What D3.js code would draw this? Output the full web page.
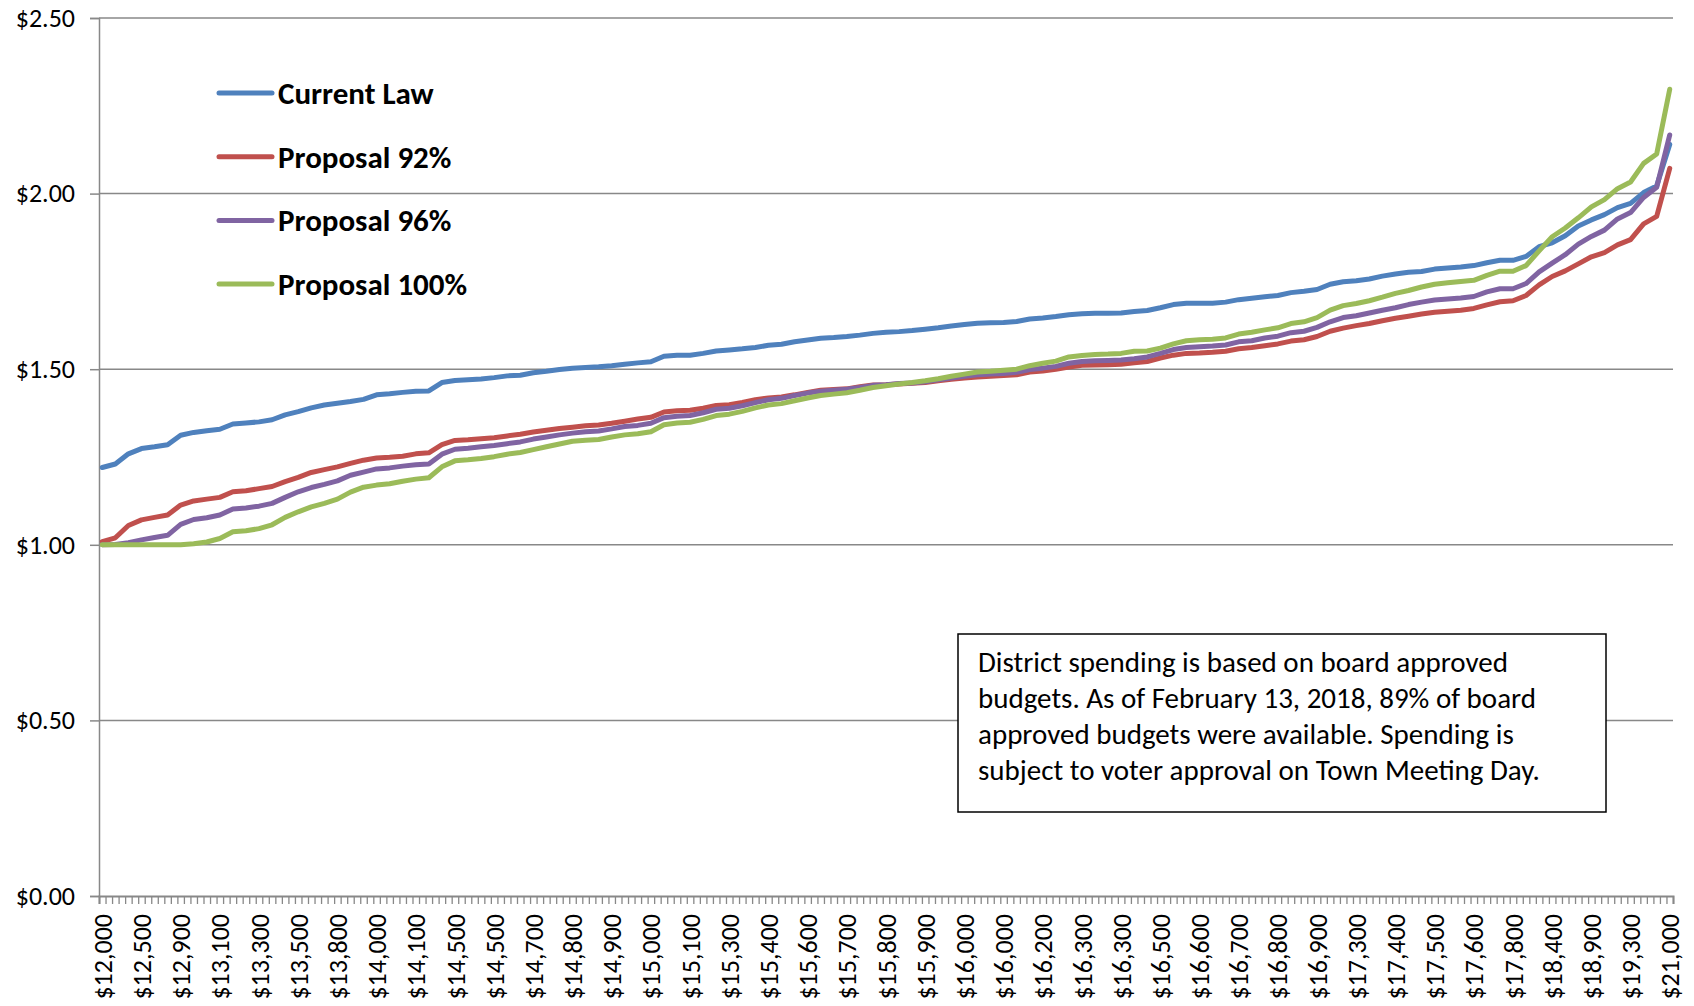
<!DOCTYPE html>
<html>
<head>
<meta charset="utf-8">
<script src="https://cdn.jsdelivr.net/npm/d3@7"></script>
<style>
  body { margin: 0; background: #fff; }
  svg text { font-family: Carlito, Lato, sans-serif; fill: #000; }
</style>
</head>
<body>
<div id="chart"></div>
<script>
// labels shown on the x axis (one every 6 districts)
const tickLabels = [
  '$12,000','$12,500','$12,900','$13,100','$13,300','$13,500','$13,800','$14,000','$14,100','$14,500',
  '$14,500','$14,700','$14,800','$14,900','$15,000','$15,100','$15,300','$15,400','$15,600','$15,700',
  '$15,800','$15,900','$16,000','$16,000','$16,200','$16,300','$16,300','$16,500','$16,600','$16,700',
  '$16,800','$16,900','$17,300','$17,400','$17,500','$17,600','$17,800','$18,400','$18,900','$19,300',
  '$21,000'
]
const labelEvery = 6
// series are read every 2nd district
const sampleStep = 2

const seriesNames = ['Current Law', 'Proposal 92%', 'Proposal 96%', 'Proposal 100%']
const seriesColors = ['#4F81BD', '#C0504D', '#8064A2', '#9BBB59']

const currentLaw = [
  1.220,1.230,1.259,1.274,1.279,1.285,1.312,1.320,1.325,1.329,
  1.344,1.347,1.350,1.356,1.370,1.379,1.390,1.398,1.403,1.408,
  1.414,1.427,1.430,1.434,1.437,1.438,1.462,1.468,1.470,1.472,
  1.476,1.481,1.483,1.490,1.494,1.499,1.503,1.505,1.507,1.510,
  1.514,1.518,1.521,1.537,1.540,1.540,1.545,1.552,1.555,1.558,
  1.562,1.568,1.571,1.578,1.583,1.588,1.590,1.593,1.597,1.602,
  1.605,1.607,1.610,1.614,1.618,1.623,1.627,1.631,1.632,1.633,
  1.636,1.643,1.646,1.650,1.655,1.658,1.659,1.659,1.660,1.664,
  1.667,1.675,1.684,1.688,1.688,1.688,1.691,1.698,1.702,1.706,
  1.710,1.718,1.722,1.727,1.742,1.749,1.752,1.757,1.765,1.771,
  1.776,1.778,1.785,1.788,1.791,1.795,1.803,1.810,1.810,1.821,
  1.849,1.860,1.880,1.908,1.925,1.940,1.960,1.972,2.003,2.022,
  2.140
]
const proposal92 = [
  1.009,1.020,1.055,1.071,1.078,1.085,1.113,1.125,1.130,1.135,
  1.151,1.154,1.160,1.166,1.180,1.192,1.206,1.214,1.222,1.232,
  1.241,1.247,1.249,1.252,1.259,1.262,1.285,1.297,1.299,1.302,
  1.305,1.310,1.315,1.321,1.326,1.331,1.335,1.339,1.341,1.346,
  1.352,1.358,1.363,1.378,1.382,1.383,1.389,1.397,1.399,1.405,
  1.413,1.418,1.421,1.427,1.434,1.440,1.442,1.444,1.450,1.455,
  1.456,1.458,1.460,1.462,1.467,1.471,1.475,1.478,1.480,1.482,
  1.484,1.492,1.495,1.500,1.506,1.511,1.512,1.513,1.514,1.518,
  1.522,1.532,1.540,1.545,1.546,1.548,1.551,1.558,1.562,1.567,
  1.572,1.580,1.584,1.593,1.608,1.617,1.624,1.630,1.638,1.645,
  1.651,1.657,1.662,1.665,1.668,1.673,1.683,1.692,1.695,1.710,
  1.740,1.764,1.780,1.800,1.820,1.832,1.854,1.869,1.914,1.935,
  2.072
]
const proposal96 = [
  1.000,1.001,1.006,1.014,1.021,1.027,1.058,1.072,1.077,1.085,
  1.102,1.105,1.110,1.118,1.135,1.151,1.163,1.172,1.182,1.198,
  1.207,1.216,1.219,1.224,1.228,1.230,1.258,1.272,1.275,1.279,
  1.283,1.288,1.293,1.301,1.307,1.313,1.318,1.322,1.324,1.330,
  1.337,1.340,1.346,1.362,1.366,1.368,1.376,1.386,1.389,1.396,
  1.405,1.413,1.417,1.425,1.432,1.437,1.440,1.443,1.448,1.454,
  1.456,1.459,1.461,1.464,1.470,1.475,1.480,1.484,1.486,1.488,
  1.491,1.499,1.503,1.508,1.517,1.522,1.524,1.525,1.526,1.530,
  1.535,1.545,1.556,1.562,1.564,1.566,1.569,1.578,1.581,1.589,
  1.594,1.604,1.608,1.619,1.635,1.647,1.652,1.660,1.668,1.675,
  1.684,1.691,1.697,1.700,1.703,1.707,1.720,1.729,1.729,1.744,
  1.777,1.802,1.826,1.856,1.878,1.896,1.928,1.946,1.989,2.018,
  2.167
]
const proposal100 = [
  1.000,1.000,1.000,1.000,1.000,1.000,1.000,1.003,1.008,1.018,
  1.037,1.040,1.046,1.057,1.078,1.094,1.108,1.118,1.130,1.150,
  1.164,1.170,1.174,1.181,1.187,1.191,1.222,1.239,1.242,1.246,
  1.251,1.258,1.263,1.271,1.279,1.287,1.295,1.298,1.300,1.307,
  1.313,1.316,1.322,1.342,1.347,1.349,1.357,1.368,1.372,1.380,
  1.390,1.398,1.402,1.410,1.418,1.425,1.429,1.433,1.440,1.448,
  1.453,1.458,1.462,1.467,1.473,1.480,1.486,1.492,1.494,1.497,
  1.500,1.510,1.517,1.523,1.535,1.539,1.542,1.543,1.545,1.551,
  1.552,1.560,1.572,1.581,1.584,1.585,1.589,1.600,1.605,1.612,
  1.618,1.630,1.635,1.647,1.668,1.681,1.687,1.695,1.705,1.716,
  1.724,1.734,1.742,1.746,1.750,1.753,1.767,1.779,1.779,1.795,
  1.837,1.877,1.902,1.931,1.962,1.983,2.014,2.033,2.086,2.113,
  2.297
]
const yTicks = [0, 0.5, 1, 1.5, 2, 2.5]

const noteLines = [
  'District spending is based on board approved',
  'budgets. As of February 13, 2018, 89% of board',
  'approved budgets were available. Spending is',
  'subject to voter approval on Town Meeting Day.'
]

const dms = {
  width: 1694,
  height: 1006,
  margin: { top: 18, right: 21, bottom: 110, left: 99 }
}
dms.contentWidth = dms.width - dms.margin.left - dms.margin.right
dms.contentHeight = dms.height - dms.margin.top - dms.margin.bottom

const nCat = (tickLabels.length - 1) * labelEvery + 1
const allSeries = [currentLaw, proposal92, proposal96, proposal100]

const svg = d3.select('#chart').append('svg')
    .attr('width', dms.width)
    .attr('height', dms.height)

const content = svg.append('g')
    .attr('transform', `translate(${dms.margin.left},${dms.margin.top})`)

const x = d3.scalePoint()
    .domain(d3.range(nCat))
    .range([0, dms.contentWidth])
    .padding(0.5)

const xEdge = d3.scaleLinear()
    .domain([0, nCat])
    .range([0, dms.contentWidth])

const y = d3.scaleLinear()
    .domain([0, 2.5])
    .range([dms.contentHeight, 0])

const axisColor = '#888888'

// gridlines
content.append('g')
    .selectAll('line')
    .data(yTicks.filter(d => d > 0))
    .join('line')
    .attr('x1', 0)
    .attr('x2', dms.contentWidth)
    .attr('y1', d => y(d))
    .attr('y2', d => y(d))
    .attr('stroke', axisColor)
    .attr('stroke-width', 1.5)

// y axis
const yAxis = content.append('g')
    .call(d3.axisLeft(y)
        .tickValues(yTicks)
        .tickSize(9)
        .tickPadding(15)
        .tickFormat(d => '$' + d.toFixed(2)))
yAxis.select('.domain').attr('stroke', axisColor).attr('stroke-width', 1.5)
yAxis.selectAll('.tick line').attr('stroke', axisColor).attr('stroke-width', 1.5)
yAxis.selectAll('text')
    .style('font-size', '26px')
    .attr('fill', '#000')

// x axis: tick marks between districts
const xTicks = content.append('g')
    .attr('transform', `translate(0,${dms.contentHeight})`)
    .call(d3.axisBottom(xEdge)
        .tickValues(d3.range(nCat + 1))
        .tickSize(8)
        .tickFormat(''))
xTicks.select('.domain').attr('stroke', axisColor).attr('stroke-width', 2)
xTicks.selectAll('.tick line').attr('stroke', axisColor).attr('stroke-width', 1.3)

// x axis labels
const xLabels = content.append('g')
    .attr('transform', `translate(0,${dms.contentHeight})`)
    .call(d3.axisBottom(x)
        .tickValues(d3.range(0, nCat, labelEvery))
        .tickSize(0)
        .tickFormat(i => tickLabels[i / labelEvery]))
xLabels.select('.domain').remove()
xLabels.selectAll('text')
    .style('font-size', '26px')
    .attr('fill', '#000')
    .attr('transform', 'rotate(-90)')
    .attr('text-anchor', 'end')
    .attr('x', -18)
    .attr('y', 0)
    .attr('dy', '0.35em')

// series lines
const lineGen = d3.line()
    .x((d, k) => x(k * sampleStep))
    .y(d => y(d))

content.append('g')
    .selectAll('path')
    .data(allSeries)
    .join('path')
    .attr('d', lineGen)
    .attr('fill', 'none')
    .attr('stroke', (d, k) => seriesColors[k])
    .attr('stroke-width', 5)
    .attr('stroke-linejoin', 'round')
    .attr('stroke-linecap', 'round')

// legend
const legend = svg.append('g')
    .attr('transform', 'translate(219,93)')

const legendRow = legend.selectAll('g')
    .data(seriesNames)
    .join('g')
    .attr('transform', (d, k) => `translate(0,${k * 63.7})`)

legendRow.append('line')
    .attr('x1', 0)
    .attr('x2', 53)
    .attr('stroke', (d, k) => seriesColors[k])
    .attr('stroke-width', 5)
    .attr('stroke-linecap', 'round')

legendRow.append('text')
    .attr('x', 59)
    .attr('dy', '0.35em')
    .style('font-size', '31px')
    .style('font-weight', 'bold')
    .text(d => d)

// note box
const note = svg.append('g')
    .attr('transform', 'translate(958,634)')

note.append('rect')
    .attr('width', 648)
    .attr('height', 178)
    .attr('fill', '#fff')
    .attr('stroke', '#000')
    .attr('stroke-width', 1.5)

note.selectAll('text')
    .data(noteLines)
    .join('text')
    .attr('x', 20)
    .attr('y', (d, k) => 38 + k * 36)
    .style('font-size', '29px')
    .text(d => d)
</script>
</body>
</html>
